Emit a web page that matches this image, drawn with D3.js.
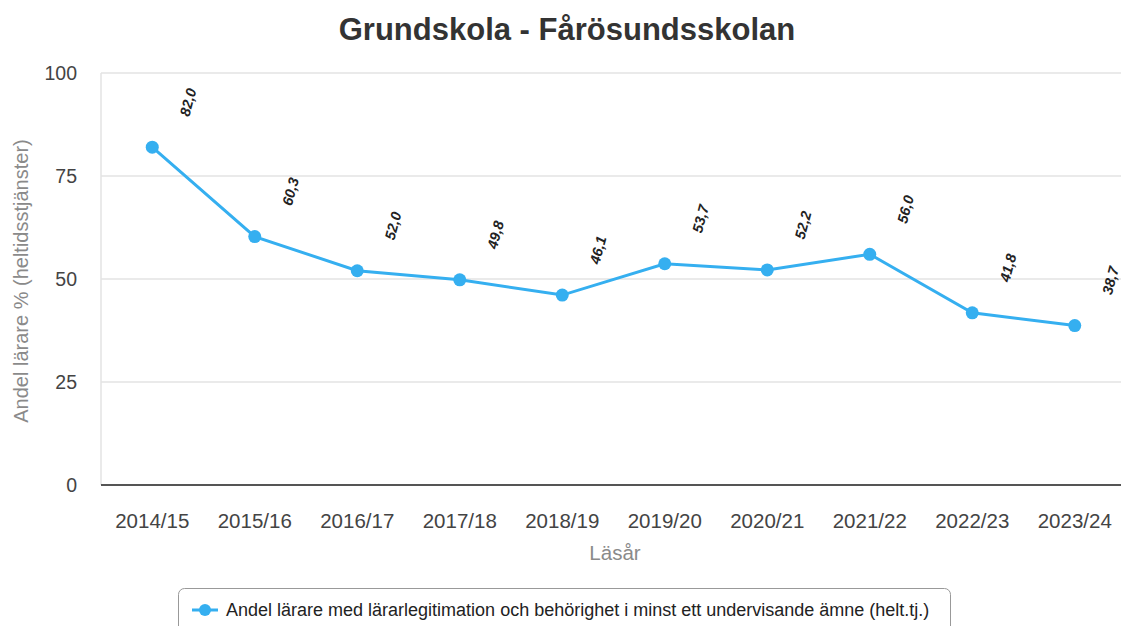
<!DOCTYPE html>
<html>
<head>
<meta charset="utf-8">
<script src="https://cdn.jsdelivr.net/npm/d3@7"></script>
<style>
  body { margin: 0; background: #fff; }
  svg { font-family: "Liberation Sans", Arial, sans-serif; }
</style>
</head>
<body>
<svg id="chart" width="1121" height="626"></svg>
<script>
// data
const years = ["2014/15", "2015/16", "2016/17", "2017/18", "2018/19", "2019/20", "2020/21", "2021/22", "2022/23", "2023/24"];
const shares = [82.0, 60.3, 52.0, 49.8, 46.1, 53.7, 52.2, 56.0, 41.8, 38.7];
const yTicks = [0, 25, 50, 75, 100];
const seriesName = "Andel lärare med lärarlegitimation och behörighet i minst ett undervisande ämne (helt.tj.)";

const svg = d3.select("#chart");
const plotLeft = 101, plotRight = 1126, plotTop = 73, plotBottom = 485;
const blue = "#35aff0";
const font = "Liberation Sans, Arial, sans-serif";

const x = d3.scaleBand().domain(years).range([plotLeft, plotRight]);
const y = d3.scaleLinear().domain([0, 100]).range([plotBottom, plotTop]);

// title
svg.append("text")
  .attr("x", 567).attr("y", 40)
  .attr("text-anchor", "middle")
  .attr("font-size", 31).attr("font-weight", "bold")
  .attr("fill", "#333")
  .text("Grundskola - Fårösundsskolan");

// grid lines
svg.append("g")
  .selectAll("line")
  .data(yTicks.filter(d => d > 0))
  .join("line")
  .attr("x1", plotLeft).attr("x2", 1121)
  .attr("y1", d => y(d)).attr("y2", d => y(d))
  .attr("stroke", "#e3e3e3").attr("stroke-width", 1.5);

// left edge line
svg.append("line")
  .attr("x1", plotLeft).attr("x2", plotLeft)
  .attr("y1", plotTop).attr("y2", plotBottom)
  .attr("stroke", "#e3e3e3").attr("stroke-width", 1.5);

// y axis
const yAxis = svg.append("g")
  .attr("transform", `translate(${plotLeft},0)`)
  .call(d3.axisLeft(y).tickValues(yTicks).tickSize(0).tickPadding(24));
yAxis.select(".domain").remove();
yAxis.selectAll("text").attr("font-size", 19.5).attr("fill", "#444").attr("font-family", font);

// x axis
const xAxis = svg.append("g")
  .attr("transform", `translate(0,${plotBottom})`)
  .call(d3.axisBottom(x).tickSize(0).tickPadding(28));
xAxis.select(".domain").attr("stroke", "#555").attr("stroke-width", 2)
  .attr("d", `M${plotLeft},0H1121`);
xAxis.selectAll("text").attr("font-size", 20.5).attr("fill", "#444").attr("font-family", font);

// axis titles
svg.append("text")
  .attr("transform", `translate(28,${(plotTop + plotBottom) / 2 + 2}) rotate(-90)`)
  .attr("text-anchor", "middle")
  .attr("font-size", 20).attr("fill", "#8a8a8a")
  .text("Andel lärare % (heltidsstjänster)");

svg.append("text")
  .attr("x", 615).attr("y", 560)
  .attr("text-anchor", "middle")
  .attr("font-size", 20.5).attr("fill", "#8a8a8a")
  .text("Läsår");

// line + points
const cx = d => x(d) + x.bandwidth() / 2;
const pts = years.map((d, i) => ({ year: d, v: shares[i] }));

svg.append("path")
  .datum(pts)
  .attr("fill", "none")
  .attr("stroke", blue).attr("stroke-width", 3)
  .attr("d", d3.line().x(d => cx(d.year)).y(d => y(d.v)));

svg.append("g")
  .selectAll("circle")
  .data(pts)
  .join("circle")
  .attr("cx", d => cx(d.year)).attr("cy", d => y(d.v))
  .attr("r", 6.5).attr("fill", blue);

// data labels, rotated
svg.append("g")
  .selectAll("text")
  .data(pts)
  .join("text")
  .attr("transform", d => `translate(${cx(d.year) + 37},${y(d.v) - 30}) rotate(-75)`)
  .attr("font-size", 14.5).attr("font-weight", "bold").attr("font-style", "italic")
  .attr("fill", "#222")
  .text(d => d.v.toFixed(1).replace(".", ","));

// legend
const lg = svg.append("g");
lg.append("rect")
  .attr("x", 178.5).attr("y", 588.5)
  .attr("width", 772).attr("height", 50).attr("rx", 6)
  .attr("fill", "#fff").attr("stroke", "#999").attr("stroke-width", 1);
lg.append("line")
  .attr("x1", 192).attr("x2", 218).attr("y1", 610).attr("y2", 610)
  .attr("stroke", blue).attr("stroke-width", 3);
lg.append("circle").attr("cx", 205).attr("cy", 610).attr("r", 6).attr("fill", blue);
lg.append("text")
  .attr("x", 226).attr("y", 616)
  .attr("font-size", 18).attr("fill", "#222")
  .text(seriesName);
</script>
</body>
</html>
